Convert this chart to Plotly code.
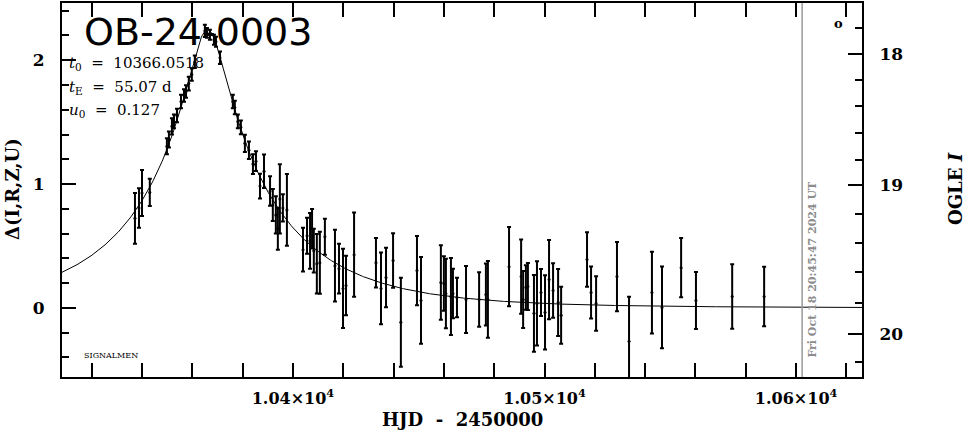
import numpy as np
import plotly.graph_objects as go

# ---- data ----
hjd = [10337.2, 10338.8, 10340.0, 10343.1, 10349.9, 10350.7, 10351.9, 10352.7, 10353.9, 10355.5,
       10356.7, 10357.5, 10358.6, 10359.8, 10361.0, 10365.0, 10365.8, 10367.0, 10368.6, 10369.4,
       10371.0, 10376.1, 10376.9, 10378.1, 10379.3, 10380.9, 10382.5, 10384.1, 10385.3, 10386.9,
       10388.5, 10390.9, 10392.0, 10393.2, 10394.0, 10394.8, 10396.0, 10397.6,
       10404.0, 10405.6, 10406.8, 10407.6, 10408.3, 10409.5, 10410.7, 10412.7, 10416.7, 10418.3,
       10419.9, 10421.1, 10424.3,
       10433.0, 10435.0, 10437.0, 10439.8, 10442.9, 10449.3, 10450.9, 10458.8, 10460.0, 10460.8,
       10462.8, 10463.6, 10465.2, 10468.8, 10474.0, 10476.7, 10477.5, 10485.9, 10490.7, 10491.5,
       10492.6, 10493.4, 10495.8, 10497.0, 10498.6, 10500.2, 10501.8, 10503.4, 10505.4, 10506.6,
       10516.9, 10518.5, 10520.5, 10528.8, 10533.6, 10542.7, 10546.7, 10554.3, 10560.2, 10574.6,
       10587.3]
delta = [0.723, 0.807, 0.928, 0.932, 1.305, 1.360, 1.466, 1.506, 1.554, 1.667,
         1.715, 1.747, 1.811, 1.884, 1.988, 2.237, 2.221, 2.205, 2.165, 2.149,
         2.020, 1.667, 1.618, 1.506, 1.458, 1.329, 1.273, 1.161, 1.185, 0.984,
         1.104, 0.944, 0.831, 0.751, 0.639, 0.880, 0.807, 0.791,
         0.470, 0.582, 0.542, 0.639, 0.462, 0.357, 0.365, 0.574, 0.341, 0.317,
         0.157, 0.181, 0.430,
         0.365, 0.157, 0.245, 0.382, -0.116, 0.301, 0.060, 0.205, 0.197, 0.116,
         0.092, 0.116, 0.084, 0.068, 0.068, 0.108, 0.068, 0.333, 0.253, 0.068,
         0.165, 0.173, -0.044, 0.036, 0.124, -0.036, 0.229, 0.141, 0.044, -0.060,
         0.390, 0.124, 0.036, 0.253, -0.269, 0.124, 0.004, 0.325, 0.060, 0.092,
         0.092]
delta_err = [0.205, 0.160, 0.185, 0.110, 0.065, 0.065, 0.065, 0.055, 0.055, 0.055,
             0.050, 0.050, 0.055, 0.050, 0.050, 0.050, 0.040, 0.040, 0.040, 0.040,
             0.050, 0.055, 0.055, 0.055, 0.055, 0.070, 0.070, 0.080, 0.080, 0.100,
             0.135, 0.120, 0.130, 0.150, 0.170, 0.280, 0.110, 0.290,
             0.177, 0.145, 0.225, 0.160, 0.177, 0.240, 0.250, 0.145, 0.290, 0.200,
             0.320, 0.240, 0.340,
             0.200, 0.290, 0.240, 0.220, 0.360, 0.280, 0.350, 0.300, 0.220, 0.280,
             0.310, 0.200, 0.160, 0.270, 0.220, 0.250, 0.310, 0.320, 0.300, 0.230,
             0.180, 0.190, 0.310, 0.340, 0.190, 0.300, 0.320, 0.220, 0.270, 0.230,
             0.220, 0.210, 0.220, 0.280, 0.360, 0.330, 0.330, 0.240, 0.230, 0.260,
             0.240]

# model parameters shown on the chart
t0 = 10366.0518
tE = 55.07
u0 = 0.127

x_tick_vals = [10400, 10500, 10600]
x_tick_text = ["1.04×10<sup>4</sup>", "1.05×10<sup>4</sup>", "1.06×10<sup>4</sup>"]

ogle_major = ["18", "19", "20"]
ogle_minor = [17.8, 18.2, 18.4, 18.6, 18.8, 19.2, 19.4, 19.6, 19.8, 20.2]

# right-axis (OGLE I) positions expressed on the Delta scale (layout)
mag_to_delta = {17.8: 2.26, 18.0: 2.05, 18.2: 1.84, 18.4: 1.63, 18.6: 1.41, 18.8: 1.195,
                19.0: 0.99, 19.2: 0.76, 19.4: 0.526, 19.6: 0.293, 19.8: 0.036,
                20.0: -0.213, 20.2: -0.438}

XR = [10308.2, 10626.2]
YR = [-0.558, 2.462]

# Paczynski model curve
tt = np.linspace(XR[0], XR[1], 800)
u = np.sqrt(u0 ** 2 + ((tt - t0) / tE) ** 2)
A = (u ** 2 + 2) / (u * np.sqrt(u ** 2 + 4))
model = 2.5 * np.log10(A)

FONT = "DejaVu Serif"

fig = go.Figure()
fig.add_trace(go.Scatter(x=tt, y=model, mode="lines",
                         line=dict(color="black", width=1), hoverinfo="skip",
                         showlegend=False))
fig.add_trace(go.Scatter(x=hjd, y=delta, mode="markers",
                         marker=dict(color="black", size=3),
                         error_y=dict(type="data", array=delta_err, color="black",
                                      thickness=2, width=2),
                         showlegend=False))
# invisible trace to activate the right axis
fig.add_trace(go.Scatter(x=[XR[0]], y=[YR[0]], yaxis="y2", mode="markers",
                         marker=dict(opacity=0), showlegend=False, hoverinfo="skip"))

# "now" line
fig.add_shape(type="line", xref="x", yref="paper", x0=10602.4, x1=10602.4, y0=0, y1=1,
              line=dict(color="#999999", width=1.5))

fig.update_layout(
    width=965, height=434,
    margin=dict(l=62, r=103, t=1, b=57),
    paper_bgcolor="white", plot_bgcolor="white",
    font=dict(family=FONT, color="black", size=16),
    xaxis=dict(range=XR, showgrid=False, zeroline=False, showline=True,
               linecolor="black", linewidth=2, mirror="allticks",
               ticks="inside", ticklen=14, tickwidth=2, tickcolor="black",
               tickmode="array", tickvals=x_tick_vals, ticktext=x_tick_text,
               tickfont=dict(family=FONT, size=16, weight="bold"),
               ticklabelstandoff=6,
               minor=dict(tickmode="linear", tick0=10300, dtick=20, ticks="inside",
                          ticklen=7, tickwidth=2, tickcolor="black", showgrid=False)),
    yaxis=dict(range=YR, showgrid=False, zeroline=False, showline=True,
               linecolor="black", linewidth=2,
               ticks="inside", ticklen=14, tickwidth=2, tickcolor="black",
               tickmode="linear", tick0=0, dtick=1,
               tickfont=dict(family=FONT, size=17, weight="bold"),
               ticklabelstandoff=12,
               minor=dict(tickmode="linear", tick0=0, dtick=0.2, ticks="inside",
                          ticklen=7, tickwidth=2, tickcolor="black", showgrid=False)),
    yaxis2=dict(range=YR, overlaying="y", side="right", anchor="x",
                showgrid=False, zeroline=False, showline=True,
                linecolor="black", linewidth=2,
                ticks="inside", ticklen=14, tickwidth=2, tickcolor="black",
                tickmode="array",
                tickvals=[mag_to_delta[float(m)] for m in ogle_major],
                ticktext=ogle_major,
                tickfont=dict(family=FONT, size=17, weight="bold"),
                ticklabelstandoff=12,
                minor=dict(tickmode="array",
                           tickvals=[mag_to_delta[m] for m in ogle_minor],
                           ticks="inside", ticklen=7, tickwidth=2,
                           tickcolor="black", showgrid=False)),
)

ann = []
ann.append(dict(text="OB-24-0003", xref="paper", yref="paper", x=20 / 800, y=1 - 29 / 376,
                xanchor="left", yanchor="middle", showarrow=False,
                font=dict(family="DejaVu Sans", size=38, color="black")))
params = ["<i>t</i><sub>0</sub>  =  10366.0518", "<i>t</i><sub>E</sub>  =  55.07 d",
          "<i>u</i><sub>0</sub>  =  0.127"]
for i, p in enumerate(params):
    ann.append(dict(text=p, xref="paper", yref="paper", x=5 / 800,
                    y=1 - (61 + 23.5 * i) / 376, xanchor="left", yanchor="middle",
                    showarrow=False, font=dict(family=FONT, size=15, color="black")))
ann.append(dict(text="SIGNALMEN", xref="paper", yref="paper", x=20 / 800, y=1 - 354 / 376,
                xanchor="left", yanchor="middle", showarrow=False,
                font=dict(family=FONT, size=8, color="black")))
ann.append(dict(text="Fri Oct 18 20:45:47 2024 UT", xref="paper", yref="paper",
                x=751 / 800, y=1 - 268 / 376, textangle=-90, xanchor="center",
                yanchor="middle", showarrow=False,
                font=dict(family=FONT, size=11, color="#8c8c8c", weight="bold")))
ann.append(dict(text="o", xref="paper", yref="paper", x=776 / 800, y=1 - 21 / 376,
                xanchor="center", yanchor="middle", showarrow=False,
                font=dict(family=FONT, size=13, color="black", weight="bold")))
# axis titles
ann.append(dict(text="HJD  -  2450000", xref="paper", yref="paper", x=0.5, y=-43 / 376,
                xanchor="center", yanchor="middle", showarrow=False,
                font=dict(family=FONT, size=18, color="black", weight="bold")))
ann.append(dict(text="Δ(I,R,Z,U)", xref="paper", yref="paper", x=-50 / 800,
                y=1 - 187 / 376, textangle=-90, xanchor="center", yanchor="middle",
                showarrow=False,
                font=dict(family=FONT, size=18, color="black", weight="bold")))
ann.append(dict(text="OGLE <i>I</i>", xref="paper", yref="paper", x=893 / 800,
                y=1 - 187 / 376, textangle=-90, xanchor="center", yanchor="middle",
                showarrow=False,
                font=dict(family=FONT, size=18, color="black", weight="bold")))
fig.update_layout(annotations=ann)

fig.write_html("out.html", config={"displayModeBar": False},
               post_script="document.body.style.margin='0';document.body.style.padding='0';")
